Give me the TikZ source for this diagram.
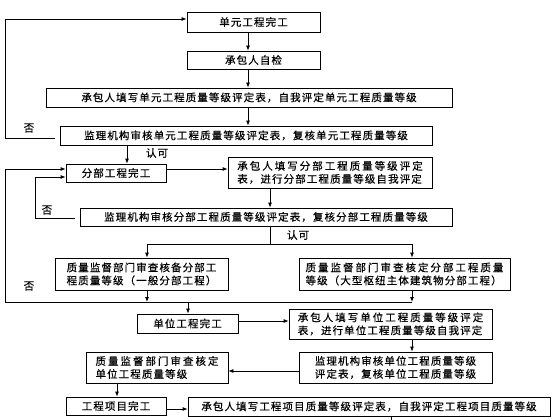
\documentclass[tikz,border=0pt]{standalone}
\usepackage{fontspec}
\usetikzlibrary{arrows.meta,calc}
\newfontfamily\cjk[LetterSpace=10.5,FakeBold=0.4]{Noto Sans CJK SC}
\newfontfamily\cjkw[LetterSpace=19,FakeBold=0.4]{Noto Sans CJK SC}
\begin{document}
\begin{tikzpicture}[x=1pt,y=-1pt,
  box/.style={draw, line width=0.8pt, inner sep=0pt, fill=white, align=left,
              font=\fontsize{10.5}{13}\selectfont\cjk},
  lbl/.style={inner sep=0pt, font=\fontsize{10.5}{12}\selectfont\cjk},
  arr/.style={line width=0.8pt, -{Latex[length=5pt,width=4pt]}},
  ln/.style={line width=0.8pt}]
\fill[white] (0,0) rectangle (560,420);
\useasboundingbox (0,0) rectangle (560,420);

% boxes
\node[box, minimum width=133pt, minimum height=20pt] (b1) at (253.5,22) {单元工程完工};
\node[box, minimum width=133pt, minimum height=18pt] (b2) at (253.5,60) {承包人自检};
\node[box, minimum width=406pt, minimum height=19pt] (b3) at (249,97.5) {承包人填写单元工程质量等级评定表，自我评定单元工程质量等级};
\node[box, minimum width=372pt, minimum height=19pt] (b4) at (246,135.5) {监理机构审核单元工程质量等级评定表，复核单元工程质量等级};
\node[box, minimum width=100pt, minimum height=18pt] (b5) at (116,173) {分部工程完工};
\node[box, minimum width=204pt, minimum height=31pt] (b6) at (330,172.5) {{\cjkw 承包人填写分部工程质量等级评定}\\表，进行分部工程质量等级自我评定};
\node[box, minimum width=372pt, minimum height=18pt] (b7) at (266,217) {监理机构审核分部工程质量等级评定表，复核分部工程质量等级};
\node[box, minimum width=173pt, minimum height=32pt] (b8) at (141.5,274) {质量监督部门审查核备分部工\\程质量等级（一般分部工程）};
\node[box, minimum width=211pt, minimum height=32pt] (b9) at (404.5,274) {{\cjkw 质量监督部门审查核定分部工程质量}\\等级（大型枢纽主体建筑物分部工程）};
\node[box, minimum width=101pt, minimum height=19pt] (b10) at (187.5,323.5) {单位工程完工};
\node[box, minimum width=203pt, minimum height=30pt] (b11) at (390.5,324) {{\cjkw 承包人填写单位工程质量等级评定}\\表，进行单位工程质量等级自我评定};
\node[box, minimum width=193pt, minimum height=31pt] (b12) at (395.5,367.5) {监理机构审核单位工程质量等级\\评定表，复核单位工程质量等级};
\node[box, minimum width=142pt, minimum height=31pt] (b13) at (157,367.5) {{\cjkw 质量监督部门审查核定}\\单位工程质量等级};
\node[box, minimum width=100pt, minimum height=18pt] (b14) at (116,406) {工程项目完工};
\node[box, minimum width=362pt, minimum height=19pt] (b15) at (369,406.5) {承包人填写工程项目质量等级评定表，自我评定工程项目质量等级};

% labels
\node[lbl] (n1) at (29,128) {否};
\node[lbl] (k1) at (157,153) {认可};
\node[lbl] (n2) at (47,210) {否};
\node[lbl] (k2) at (298,235) {认可};
\node[lbl] (n3) at (29,286) {否};

% helper coordinates
\coordinate (xA) at (248,0);
\coordinate (xB) at (127,0);
\coordinate (xC) at (270,0);
\coordinate (xD) at (147,0);
\coordinate (xE) at (412,0);
\coordinate (xF) at (188,0);
\coordinate (xG) at (117,0);
\coordinate (xH) at (391,0);
\coordinate (xL) at (5,0);
\coordinate (xM) at (35,0);
\coordinate (y1) at (0,19);
\coordinate (y2) at (0,138);
\coordinate (y3) at (0,169);
\coordinate (y4) at (0,177);
\coordinate (y5) at (0,218);
\coordinate (y6) at (0,244);
\coordinate (y7) at (0,302);
\coordinate (y8) at (0,321);
\coordinate (y9) at (0,371);
\coordinate (y10) at (0,409);
\coordinate (yend) at (0,420);

% connectors
\draw[arr] (b1.south -| xA) -- (b2.north -| xA);
\draw[arr] (b2.south -| xA) -- (b3.north -| xA);
\draw[arr] (b3.south -| xA) -- (b4.north -| xA);
\draw[arr] (b4.south -| xB) -- (b5.north -| xB);
\draw[arr] ($(b4.west |- y2)+(-5,0)$) -- (xL |- y2) -- (xL |- y1) -- (b1.west |- y1);
\draw[arr] (b5.east |- y3) -- (b6.west |- y3);
\draw[arr] (b6.south -| xC) -- (b7.north -| xC);
\draw[ln] (b7.south -| xC) -- (xC |- y6);
\draw[ln] (xD |- y6) -- (xE |- y6);
\draw[arr] (xD |- y6) -- (b8.north -| xD);
\draw[arr] (xE |- y6) -- (b9.north -| xE);
\draw[arr] ($(b7.west |- y5)+(-5,0)$) -- (xM |- y5) -- (xM |- y4) -- (b5.west |- y4);
\draw[arr] (b8.south -| xD) -- (xD |- y7);
\draw[arr] (b9.south -| xE) -- (xE |- y7);
\draw[arr] (xE |- y7) -- (xL |- y7) -- (xL |- y3) -- (b5.west |- y3);
\draw[arr] (xF |- y7) -- (b10.north -| xF);
\draw[arr] (b10.east |- y8) -- (b11.west |- y8);
\draw[arr] (b11.south -| xE) -- (b12.north -| xE);
\draw[arr] (b12.west |- y9) -- (b13.east |- y9);
\draw[arr] (b13.south -| xG) -- (b14.north -| xG);
\draw[arr] (b14.east |- y10) -- (b15.west |- y10);
\draw[ln] (b15.south -| xH) -- (xH |- yend);
\end{tikzpicture}
\end{document}
